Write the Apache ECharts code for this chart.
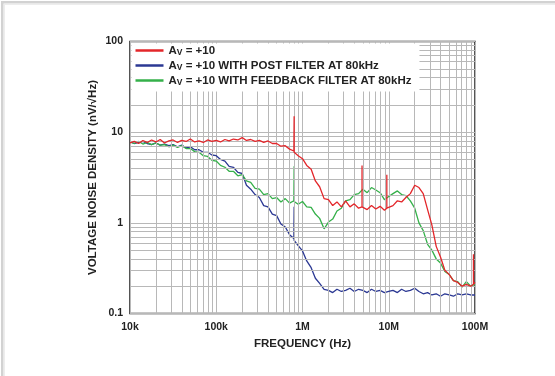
<!DOCTYPE html>
<html>
<head>
<meta charset="utf-8">
<script src="https://cdn.jsdelivr.net/npm/echarts@6/dist/echarts.min.js"></script>
<style>html,body{margin:0;padding:0;background:#fff;}#c{width:555px;height:376px;}</style>
</head>
<body>
<div id="c"></div>
<script>
// Frequencies (Hz), 20 points per decade
const FREQ = [
  1e4,1.12e4,1.26e4,1.41e4,1.58e4,1.78e4,2e4,2.24e4,2.51e4,2.82e4,
  3.16e4,3.55e4,3.98e4,4.47e4,5.01e4,5.62e4,6.31e4,7.08e4,7.94e4,8.91e4,
  1e5,1.12e5,1.26e5,1.41e5,1.58e5,1.78e5,2e5,2.24e5,2.51e5,2.82e5,
  3.16e5,3.55e5,3.98e5,4.47e5,5.01e5,5.62e5,6.31e5,7.08e5,7.94e5,8.91e5,
  1e6,1.12e6,1.26e6,1.41e6,1.58e6,1.78e6,2e6,2.24e6,2.51e6,2.82e6,
  3.16e6,3.55e6,3.98e6,4.47e6,5.01e6,5.62e6,6.31e6,7.08e6,7.94e6,8.91e6,
  1e7,1.12e7,1.26e7,1.41e7,1.58e7,1.78e7,2e7,2.24e7,2.51e7,2.82e7,
  3.16e7,3.55e7,3.98e7,4.47e7,5.01e7,5.62e7,6.31e7,7.08e7,7.94e7,8.91e7,
  1e8
];

const RED = [
  7.6,7.9,7.5,8.1,7.7,8.2,7.8,8.3,7.6,8.0,
  8.2,7.7,8.1,7.9,8.4,7.8,8.0,7.7,8.2,7.9,
  8.1,7.8,8.3,8.0,8.4,8.2,8.7,8.1,8.3,7.9,
  8.1,7.7,8.0,7.5,7.5,7.0,7.1,6.5,6.2,5.5,
  5.1,4.3,3.9,2.9,2.5,1.85,1.8,1.55,1.7,1.5,
  1.75,1.5,1.62,1.45,1.5,1.4,1.55,1.42,1.52,1.38,
  1.5,1.55,1.75,1.7,1.9,2.1,2.6,2.45,2.1,1.4,
  0.95,0.55,0.42,0.3,0.27,0.23,0.22,0.2,0.21,0.2,
  0.22
];
const RED_SPIKES = [[8e5, 6.0, 15], [4.9e6, 1.5, 4.3], [9.5e6, 1.45, 3.4], [9.6e7, 0.21, 0.45]];

const BLUE = [
  7.8,7.5,7.7,7.9,7.5,7.3,7.6,7.2,7.4,7.1,
  7.3,6.9,7.2,6.7,6.9,6.4,6.4,6.0,6.0,5.6,
  5.5,5.0,4.8,4.2,4.1,3.6,3.5,2.6,2.35,2.05,
  1.9,1.55,1.5,1.25,1.2,0.97,0.9,0.74,0.67,0.56,
  0.49,0.38,0.32,0.245,0.215,0.185,0.18,0.17,0.185,0.175,
  0.18,0.19,0.175,0.185,0.18,0.17,0.185,0.175,0.18,0.17,
  0.175,0.18,0.17,0.185,0.175,0.18,0.19,0.175,0.165,0.17,
  0.16,0.165,0.155,0.165,0.16,0.155,0.165,0.16,0.165,0.16,
  0.16
];
const BLUE_SPIKES = [[8e5, 0.64, 1.5]];

const GREEN = [
  7.8,7.5,7.9,7.4,7.7,7.3,7.6,7.2,7.3,6.9,
  7.2,6.8,7.1,6.6,6.6,6.1,6.0,5.5,5.4,4.9,
  4.8,4.3,4.1,3.7,3.7,3.3,3.4,2.9,2.8,2.4,
  2.35,2.05,2.1,1.85,1.9,1.7,1.85,1.65,1.75,1.6,
  1.72,1.5,1.48,1.25,1.12,0.86,1.02,1.1,1.35,1.45,
  1.75,1.8,2.05,2.1,2.35,2.15,2.45,2.3,2.15,1.8,
  1.95,2.1,2.25,2.05,2.0,1.75,1.45,1.0,0.82,0.58,
  0.5,0.4,0.36,0.29,0.27,0.23,0.225,0.195,0.225,0.2,
  0.21
];
const GREEN_SPIKES = [[8e5, 1.72, 4.2]];

const SERIES_NAMES = ['AV = +10', 'AV = +10 WITH POST FILTER AT 80kHz', 'AV = +10 WITH FEEDBACK FILTER AT 80kHz'];
const LEGEND_TAILS = [' = +10', ' = +10 WITH POST FILTER AT 80kHz', ' = +10 WITH FEEDBACK FILTER AT 80kHz'];

const X_TICKS = [1e4, 1e5, 1e6, 1e7, 1e8];
const X_LABELS = ['10k', '100k', '1M', '10M', '100M'];
const Y_TICKS = [0.1, 1, 10, 100];
const Y_LABELS = ['0.1', '1', '10', '100'];

const X_MINOR = [
  2e4,3e4,4e4,5e4,6e4,7e4,8e4,9e4,
  2e5,3e5,4e5,5e5,6e5,7e5,8e5,9e5,
  2e6,3e6,4e6,5e6,6e6,7e6,8e6,9e6,
  2e7,3e7,4e7,5e7,6e7,7e7,8e7,9e7
];
const Y_MINOR = [0.2,0.3,0.4,0.5,0.6,0.7,0.8,0.9, 2,3,4,5,6,7,8,9, 20,30,40,50,60,70,80,90];

function build(vals, spikes) {
  const out = [];
  for (let i = 0; i < FREQ.length; i++) {
    for (const s of spikes) {
      if (s[0] > (i ? FREQ[i-1] : 0) && s[0] <= FREQ[i]) {
        out.push([s[0], s[1]], [s[0], s[2]], [s[0], s[1]]);
      }
    }
    out.push([FREQ[i], vals[i]]);
  }
  return out;
}

const FONT = '"Liberation Sans", Arial, sans-serif';
const chart = echarts.init(document.getElementById('c'), null, {renderer: 'canvas'});
const lbl = (ticks, labels) => (v) => {
  for (let i = 0; i < ticks.length; i++) if (Math.abs(v / ticks[i] - 1) < 1e-6) return labels[i];
  return '';
};
const gridStyle = {color: '#b8b8b8', width: 1, type: 'solid'};

chart.setOption({
  animation: false,
  backgroundColor: '#fff',
  graphic: [
    {type: 'rect', shape: {x: 1, y: 1, width: 554, height: 2.5}, style: {fill: '#d2d2d2'}},
    {type: 'rect', shape: {x: 1, y: 1, width: 2.5, height: 375}, style: {fill: '#d2d2d2'}},
    {type: 'rect', shape: {x: 4, y: 4, width: 551, height: 1}, style: {fill: '#ededed'}},
    {type: 'rect', shape: {x: 4, y: 4, width: 1, height: 372}, style: {fill: '#ededed'}}
  ],
  grid: {left: 130, right: 80, top: 41.5, bottom: 62.5, show: true, borderColor: '#1c1c1c', borderWidth: 1.5, backgroundColor: 'transparent'},
  legend: {
    data: SERIES_NAMES,
    orient: 'vertical',
    left: 131.5, top: 43.5,
    z: 20,
    padding: [1, 8, 4, 4],
    backgroundColor: '#fff',
    icon: 'rect',
    itemWidth: 28, itemHeight: 2.5, itemGap: 2,
    formatter: (name) => '{a|A}{s|V}{a|' + LEGEND_TAILS[SERIES_NAMES.indexOf(name)] + '}',
    textStyle: {
      fontFamily: FONT, fontSize: 11.5, fontWeight: 'bold', color: '#222', lineHeight: 12,
      rich: {
        a: {fontFamily: FONT, fontSize: 11.5, fontWeight: 'bold', color: '#222'},
        s: {fontFamily: FONT, fontSize: 8.5, fontWeight: 'bold', color: '#222', padding: [5, 0, 0, 0]}
      }
    }
  },
  xAxis: {
    type: 'log', logBase: 10, min: 1e4, max: 1e8,
    name: 'FREQUENCY (Hz)', nameLocation: 'middle', nameGap: 24, nameMoveOverlap: false,
    nameTextStyle: {fontFamily: FONT, fontSize: 11.5, fontWeight: 'bold', color: '#222'},
    axisLine: {show: false}, axisTick: {show: false},
    axisLabel: {formatter: lbl(X_TICKS, X_LABELS), fontFamily: FONT, fontSize: 10.5, fontWeight: 'bold', color: '#222', margin: 8},
    splitLine: {show: true, lineStyle: gridStyle}
  },
  yAxis: {
    type: 'log', logBase: 10, min: 0.1, max: 100,
    name: 'VOLTAGE NOISE DENSITY (nV/\u221AHz)', nameLocation: 'middle', nameGap: 31, nameMoveOverlap: false,
    nameTextStyle: {fontFamily: FONT, fontSize: 11.5, fontWeight: 'bold', color: '#222'},
    axisLine: {show: false}, axisTick: {show: false},
    axisLabel: {formatter: lbl(Y_TICKS, Y_LABELS), fontFamily: FONT, fontSize: 10.5, fontWeight: 'bold', color: '#222', margin: 7},
    splitLine: {show: true, lineStyle: gridStyle}
  },
  series: [
    {
      name: 'grid', type: 'line', data: [[1e4, 1]], showSymbol: false, silent: true, z: 1,
      lineStyle: {opacity: 0},
      markLine: {
        silent: true, symbol: 'none', label: {show: false}, animation: false,
        lineStyle: gridStyle,
        data: X_MINOR.map(v => ({xAxis: v})).concat(Y_MINOR.map(v => ({yAxis: v})))
      }
    },
    {name: SERIES_NAMES[1], type: 'line', data: build(BLUE, BLUE_SPIKES), showSymbol: false, z: 3,
     color: '#2b3893', lineStyle: {width: 1.3, color: '#2b3893'}},
    {name: SERIES_NAMES[2], type: 'line', data: build(GREEN, GREEN_SPIKES), showSymbol: false, z: 4,
     color: '#35b04a', lineStyle: {width: 1.3, color: '#35b04a'}},
    {name: SERIES_NAMES[0], type: 'line', data: build(RED, RED_SPIKES), showSymbol: false, z: 5,
     color: '#e3262a', lineStyle: {width: 1.3, color: '#e3262a'}}
  ]
});
</script>
</body>
</html>
